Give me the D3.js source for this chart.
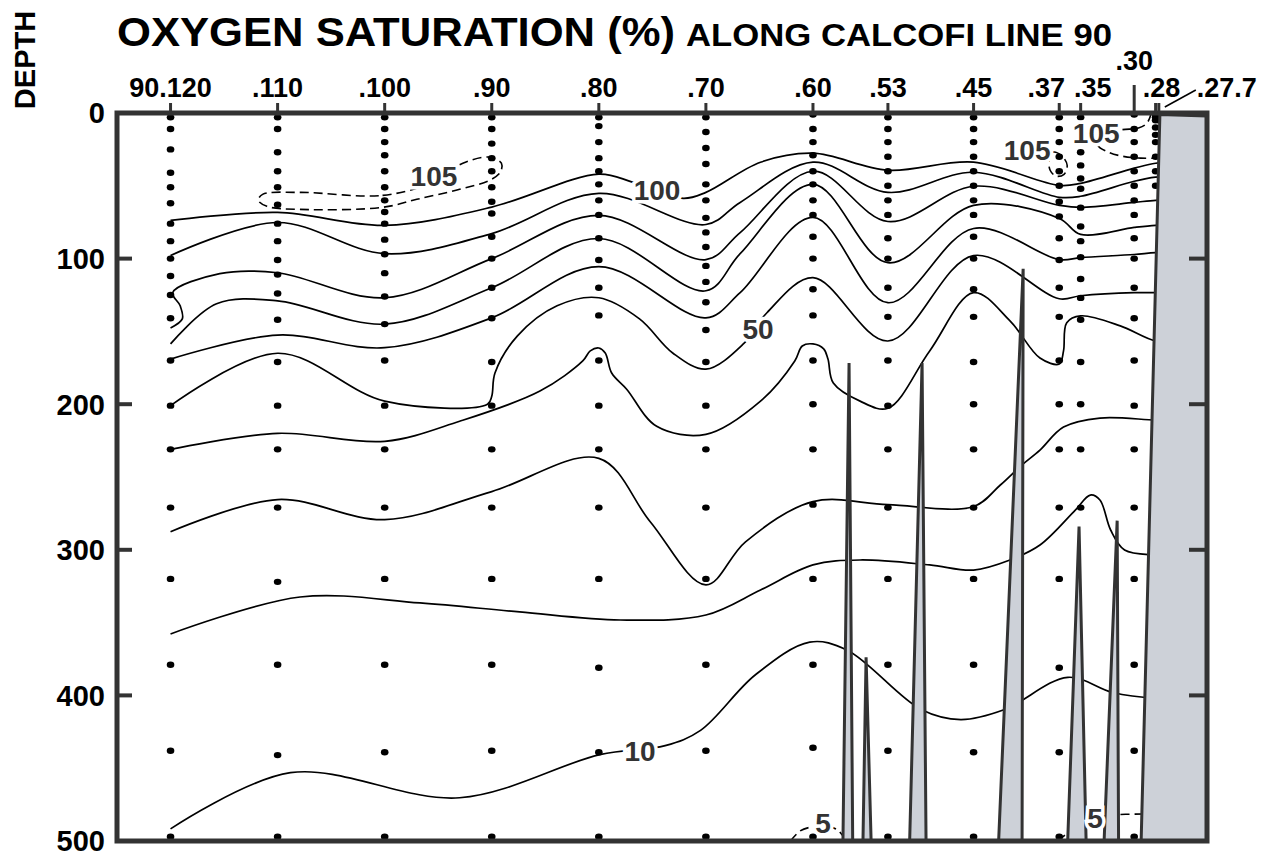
<!DOCTYPE html>
<html>
<head>
<meta charset="utf-8">
<style>
  body { margin: 0; background: #fff; }
  svg { display: block; }
  text { font-family: "Liberation Sans", Arial, Helvetica, sans-serif; font-weight: bold; }
</style>
<script src="https://cdn.jsdelivr.net/npm/d3@7"></script>
</head>
<body>
<svg id="chart" width="1276" height="858"></svg>
<script>
// stations along CalCOFI line 90 (station number decreases towards the coast)
const stations = [120, 110, 100, 90, 80, 70, 60, 53, 45, 37, 35, 30, 28, 27.7];
const stationLabels = ["90.120", ".110", ".100", ".90", ".80", ".70", ".60", ".53", ".45", ".37", ".35", ".30", ".28", ".27.7"];
const depthTicks = [0, 100, 200, 300, 400, 500];

// sampled depths (m) at each station, same order as stations
const bottleDepths = [
  [3, 11, 25, 41, 51, 62, 76, 88, 100, 112, 125, 141, 170, 201, 231, 271, 320, 379, 438, 497],
  [3, 11, 27, 40, 51, 63, 76, 88, 101, 111, 124, 142, 171, 201, 231, 271, 322, 379, 441, 497],
  [3, 11, 20, 29, 40, 51, 60, 68, 76, 87, 97, 110, 126, 145, 170, 201, 231, 271, 320, 379, 439, 497],
  [3, 11, 21, 31, 40, 51, 61, 69, 85, 100, 120, 141, 171, 201, 231, 271, 320, 379, 438, 497],
  [3, 9, 20, 31, 40, 49, 60, 70, 86, 101, 120, 139, 170, 201, 231, 271, 320, 381, 439, 497],
  [3, 13, 24, 35, 49, 60, 72, 82, 92, 105, 116, 130, 149, 171, 201, 231, 271, 320, 379, 438, 497],
  [1, 11, 20, 29, 40, 49, 60, 70, 85, 100, 121, 139, 170, 200, 231, 269, 320, 379, 436, 497],
  [3, 11, 20, 30, 40, 50, 60, 70, 86, 100, 120, 140, 170, 201, 231, 271, 320, 379, 438, 497],
  [3, 11, 20, 30, 40, 50, 60, 70, 85, 100, 121, 140, 171, 200, 231, 271, 320, 379, 439, 497],
  [3, 11, 20, 30, 40, 50, 61, 71, 86, 101, 120, 140, 170, 200, 231, 271, 320, 381, 439, 497],
  [3, 17, 27, 36, 45, 52, 65, 78, 88, 99, 114, 127, 142, 171, 200, 231, 271],
  [1, 11, 20, 30, 40, 50, 60, 70, 86, 100, 120, 141, 170, 201, 231, 271, 320, 379, 438, 497],
  [1, 3, 5, 10, 15, 20, 30, 40, 50],
  [1, 3, 5]
];

// isolines of oxygen saturation, [station, depth]
const o2_100 = [[120,73.8],[110,68.3],[100,77.2],[90,64.6],[80,42],[76.8,47.6],[72.1,58.6],[70,54.5],[64.9,33.8],[60,27.6],[53,39.3],[45,33.8],[37,49.7],[35,48.3],[30,37.9],[28,34.5],[26,34]];
const o2_90 = [[120,97.9],[110,75.2],[100,96.6],[90,82.8],[80,55.2],[70,76.6],[66.8,61.4],[60,33.8],[53,54.5],[45,40.7],[37,57.9],[35,57.2],[30,46.9],[28,44.1],[26,43.5]];
const o2_80 = [[120,147.6],[118.9,141.4],[119.1,132.4],[119.8,123.4],[115.4,110.3],[110,109.7],[100,126.9],[90,100],[80,70.3],[70,100.7],[66.8,82.1],[60,40],[53,74.5],[45,50.3],[37,63.4],[35,64.8],[30,61.4],[28,60],[26,60]];
const o2_70 = [[120,158.6],[115.7,131],[110,129],[100,145],[90,120],[80,86.2],[70,122.1],[66.8,96.6],[60,49],[53,102.8],[45,63.4],[37,72.4],[35,83.4],[30,78.6],[28,77.2],[26,77]];
const o2_60 = [[120,169],[110,152.5],[100,161.2],[90,140.7],[80,105.5],[70,140.7],[66.8,123.4],[60,71.7],[53,130.3],[45,79.3],[37,100.7],[35,99.3],[30,97.2],[28,95.9],[26,96]];
const o2_50 = [[120,201],[110,165],[100,197.9],[90.4,200],[90,194.5],[89.7,178.6],[87.6,153.1],[83.9,132.4],[80,126.9],[76.2,141.4],[73.1,164.8],[70,175.9],[66.5,158.6],[64.3,137.2],[60,113.1],[53,156.6],[45,97.9],[37,127.6],[35,125.5],[30,123.4],[28,123.4],[26,123.4]];
const o2_40 = [[120,231],[110,220],[100,225.5],[93,211.7],[85.5,191],[81.5,170.3],[80.8,163.4],[80,161.4],[79.4,164.8],[78.8,178.6],[77.4,189.7],[74.6,215.2],[70,220.7],[64.9,197.9],[61.7,170.3],[61,160],[60,158.6],[59,162],[58.6,169],[58.1,185.5],[55.6,197.9],[53,202.8],[49.1,163.4],[45,123.4],[41.6,142.8],[38.8,168.3],[37,172.4],[36.6,163.4],[36.3,144],[35,139.3],[31.3,146.2],[28,156.6],[26,157]];
const o2_30 = [[120,287.6],[110,265.5],[100,279.3],[90,260],[80,237.2],[75.2,280.7],[70,324.1],[66.3,294.5],[60,266.9],[53,269],[45,270.3],[42.5,255.5],[40.5,241.8],[38.8,231.5],[36.6,215.7],[33.2,209.5],[28,210.9],[26,211]];
const o2_20 = [[120,357.8],[107.9,332.4],[96.7,336.5],[87.4,342.7],[78,348.2],[70,344.8],[64.9,327.6],[60,310.4],[55.6,307],[49.1,310.4],[45,313.9],[41.6,307],[38.8,296.7],[35.5,272.7],[34.1,262.4],[33.2,265.8],[32.2,286.4],[30.9,300.1],[28,303.6],[26,304]];
const o2_10 = [[120,491.7],[108.8,453.1],[93,470.3],[79.9,440.7],[73.8,434.5],[70.5,424],[65.4,386],[60.3,363.4],[56.8,369],[49.9,409.7],[46.2,416.6],[42.1,409.7],[36.2,387.6],[32,398],[28,402],[26,402]];

// dashed isolines
const o2_105a = [[107.9,54.5],[100.2,56.6],[95.8,48.3],[92.7,34.5],[90.2,30.3],[89.1,34.5],[89.2,40.7],[90.2,46.2],[93,52.4],[97,59.3],[100.2,64.8],[107.9,66.2],[111,64.1],[111.8,60],[111.4,55.9]];
const o2_105b = [[37.95,32.4],[37.57,26.9],[36.73,29.7],[36.26,35.9],[36.55,42.1],[37.29,43.4],[37.85,39.3]];
const o2_105c = [[28.4,0],[28.8,6.9],[29.6,10.3],[31.3,11.7],[33.2,16.6],[33.4,22.1],[32.4,26.9],[31.1,29.7],[29.4,31],[27.5,31]];
const o2_5a = [[62.1,500],[61.2,493.1],[60.1,490.3],[58.9,489.7],[57.7,492.4],[56.9,500]];
const o2_5b = [[37.1,500],[36,493.1],[34.9,488.3],[33.7,483.4],[32.3,482.1],[29,481.4]];

const contourLabels = [
  { text: "105", s: 95.4, d: 43.4 },
  { text: "100", s: 74.56, d: 53.1 },
  { text: "50", s: 65.13, d: 148.3 },
  { text: "10", s: 76.15, d: 437.9 },
  { text: "105", s: 40.0, d: 25.5 },
  { text: "105", s: 33.55, d: 13.8 },
  { text: "5", s: 59.06, d: 487.6 },
  { text: "5", s: 33.65, d: 484.1 }
];

// bottom topography crossing the section: [station, depth] outlines
const ridges = [
  [[57.2,500],[56.63,171.7],[56.29,500]],
  [[55.33,500],[55.04,373.8],[54.57,500]],
  [[50.97,500],[49.81,171.7],[49.44,500]],
  [[42.66,500],[40.37,107],[40.47,500]],
  [[36.21,500],[35.15,284],[34.49,500]],
  [[32.81,500],[31.59,280],[31.46,500]]
];
const shelf = [[27.6,1],[23.2,2],[23.2,500],[29.35,500]];

const svg = d3.select("#chart");
const W = 1276, H = 858;
const mLeft = 117, mRight = 1207, mTop = 113, mBottom = 841;

const x = d3.scaleLinear().domain([125, 23.2]).range([mLeft, mRight]);
const y = d3.scaleLinear().domain([0, 500]).range([mTop, mBottom]);
const ink = "#333";

svg.append("rect").attr("width", W).attr("height", H).attr("fill", "#fff");

svg.append("defs").append("clipPath").attr("id", "plotclip")
  .append("rect").attr("x", mLeft).attr("y", mTop).attr("width", mRight - mLeft).attr("height", mBottom - mTop);

const plot = svg.append("g").attr("clip-path", "url(#plotclip)");

// sample dots
stations.forEach((s, i) => {
  plot.append("g").selectAll("ellipse")
    .data(bottleDepths[i])
    .join("ellipse")
    .attr("cx", x(s))
    .attr("cy", d => y(d))
    .attr("rx", 3.8).attr("ry", 3.2)
    .attr("fill", "#000");
});

const line = d3.line().x(d => x(d[0])).y(d => y(d[1])).curve(d3.curveCatmullRom.alpha(0.5));
const loop = d3.line().x(d => x(d[0])).y(d => y(d[1])).curve(d3.curveCatmullRomClosed.alpha(0.5));

[o2_100, o2_90, o2_80, o2_70, o2_60, o2_50, o2_40, o2_30, o2_20, o2_10].forEach(c => {
  plot.append("path").attr("d", line(c))
    .attr("fill", "none").attr("stroke", "#000").attr("stroke-width", 1.7);
});

[[o2_105a, loop], [o2_105b, loop], [o2_105c, line], [o2_5a, line], [o2_5b, line]].forEach(([c, gen]) => {
  plot.append("path").attr("d", gen(c))
    .attr("fill", "none").attr("stroke", "#000").attr("stroke-width", 1.6)
    .attr("stroke-dasharray", "9,5");
});

// contour labels with a white halo
svg.append("g").selectAll("text")
  .data(contourLabels)
  .join("text")
  .attr("x", d => x(d.s))
  .attr("y", d => y(d.d))
  .attr("dy", "0.36em")
  .attr("text-anchor", "middle")
  .attr("font-size", 28)
  .attr("fill", ink)
  .attr("stroke", "#fff")
  .attr("stroke-width", 7)
  .attr("paint-order", "stroke")
  .text(d => d.text);

// topography
const outline = d3.line().x(d => x(d[0])).y(d => y(d[1]));
plot.append("g").selectAll("path")
  .data(ridges.concat([shelf]))
  .join("path")
  .attr("d", d => outline(d) + "Z")
  .attr("fill", "#cdd1d8")
  .attr("stroke", ink)
  .attr("stroke-width", 3)
  .attr("stroke-linejoin", "miter");

// frame
svg.append("rect")
  .attr("x", mLeft).attr("y", mTop)
  .attr("width", mRight - mLeft).attr("height", mBottom - mTop)
  .attr("fill", "none").attr("stroke", ink).attr("stroke-width", 5);

// depth axis: ticks inside on both sides
const yAxis = svg.append("g");
yAxis.selectAll("line.l").data(depthTicks.slice(1, -1)).join("line")
  .attr("class", "l")
  .attr("x1", mLeft).attr("x2", mLeft + 15)
  .attr("y1", d => y(d)).attr("y2", d => y(d))
  .attr("stroke", ink).attr("stroke-width", 4);
yAxis.selectAll("line.r").data(depthTicks.slice(1, -1)).join("line")
  .attr("class", "r")
  .attr("x1", mRight - 18).attr("x2", mRight)
  .attr("y1", d => y(d)).attr("y2", d => y(d))
  .attr("stroke", ink).attr("stroke-width", 4);
yAxis.selectAll("text").data(depthTicks).join("text")
  .attr("x", mLeft - 12)
  .attr("y", d => y(d))
  .attr("dy", "0.36em")
  .attr("text-anchor", "end")
  .attr("font-size", 29)
  .attr("fill", "#000")
  .text(d => d);

// station ticks and labels along the top
const xAxis = svg.append("g");
xAxis.selectAll("line").data(stations).join("line")
  .attr("x1", d => x(d)).attr("x2", d => x(d))
  .attr("y1", mTop)
  .attr("y2", d => d === 30 ? mTop - 28 : mTop - 10)
  .attr("stroke", ink).attr("stroke-width", 3);

const labelDx = { 37: -13, 35: 12, 28: 6 };
xAxis.selectAll("text").data(stations).join("text")
  .attr("x", d => d === 27.7 ? x(d) + 38 : x(d) + (labelDx[d] || 0))
  .attr("y", d => d === 30 ? 70 : 97)
  .attr("text-anchor", d => d === 27.7 ? "start" : "middle")
  .attr("font-size", 27)
  .attr("fill", "#000")
  .text((d, i) => stationLabels[i]);

// leader to the .27.7 label
xAxis.append("line")
  .attr("x1", x(27.7) + 6).attr("y1", mTop - 6)
  .attr("x2", x(27.7) + 37).attr("y2", mTop - 23)
  .attr("stroke", "#000").attr("stroke-width", 1.5);

// titles
svg.append("text")
  .attr("x", mLeft).attr("y", 46)
  .attr("font-size", 41)
  .attr("textLength", 558).attr("lengthAdjust", "spacingAndGlyphs")
  .attr("fill", "#000")
  .text("OXYGEN SATURATION (%)");
svg.append("text")
  .attr("x", 686).attr("y", 46)
  .attr("font-size", 31)
  .attr("textLength", 426).attr("lengthAdjust", "spacingAndGlyphs")
  .attr("fill", "#000")
  .text("ALONG CALCOFI LINE 90");
svg.append("text")
  .attr("transform", "translate(35,60) rotate(-90)")
  .attr("text-anchor", "middle")
  .attr("font-size", 29)
  .attr("fill", "#000")
  .text("DEPTH");
</script>
</body>
</html>
